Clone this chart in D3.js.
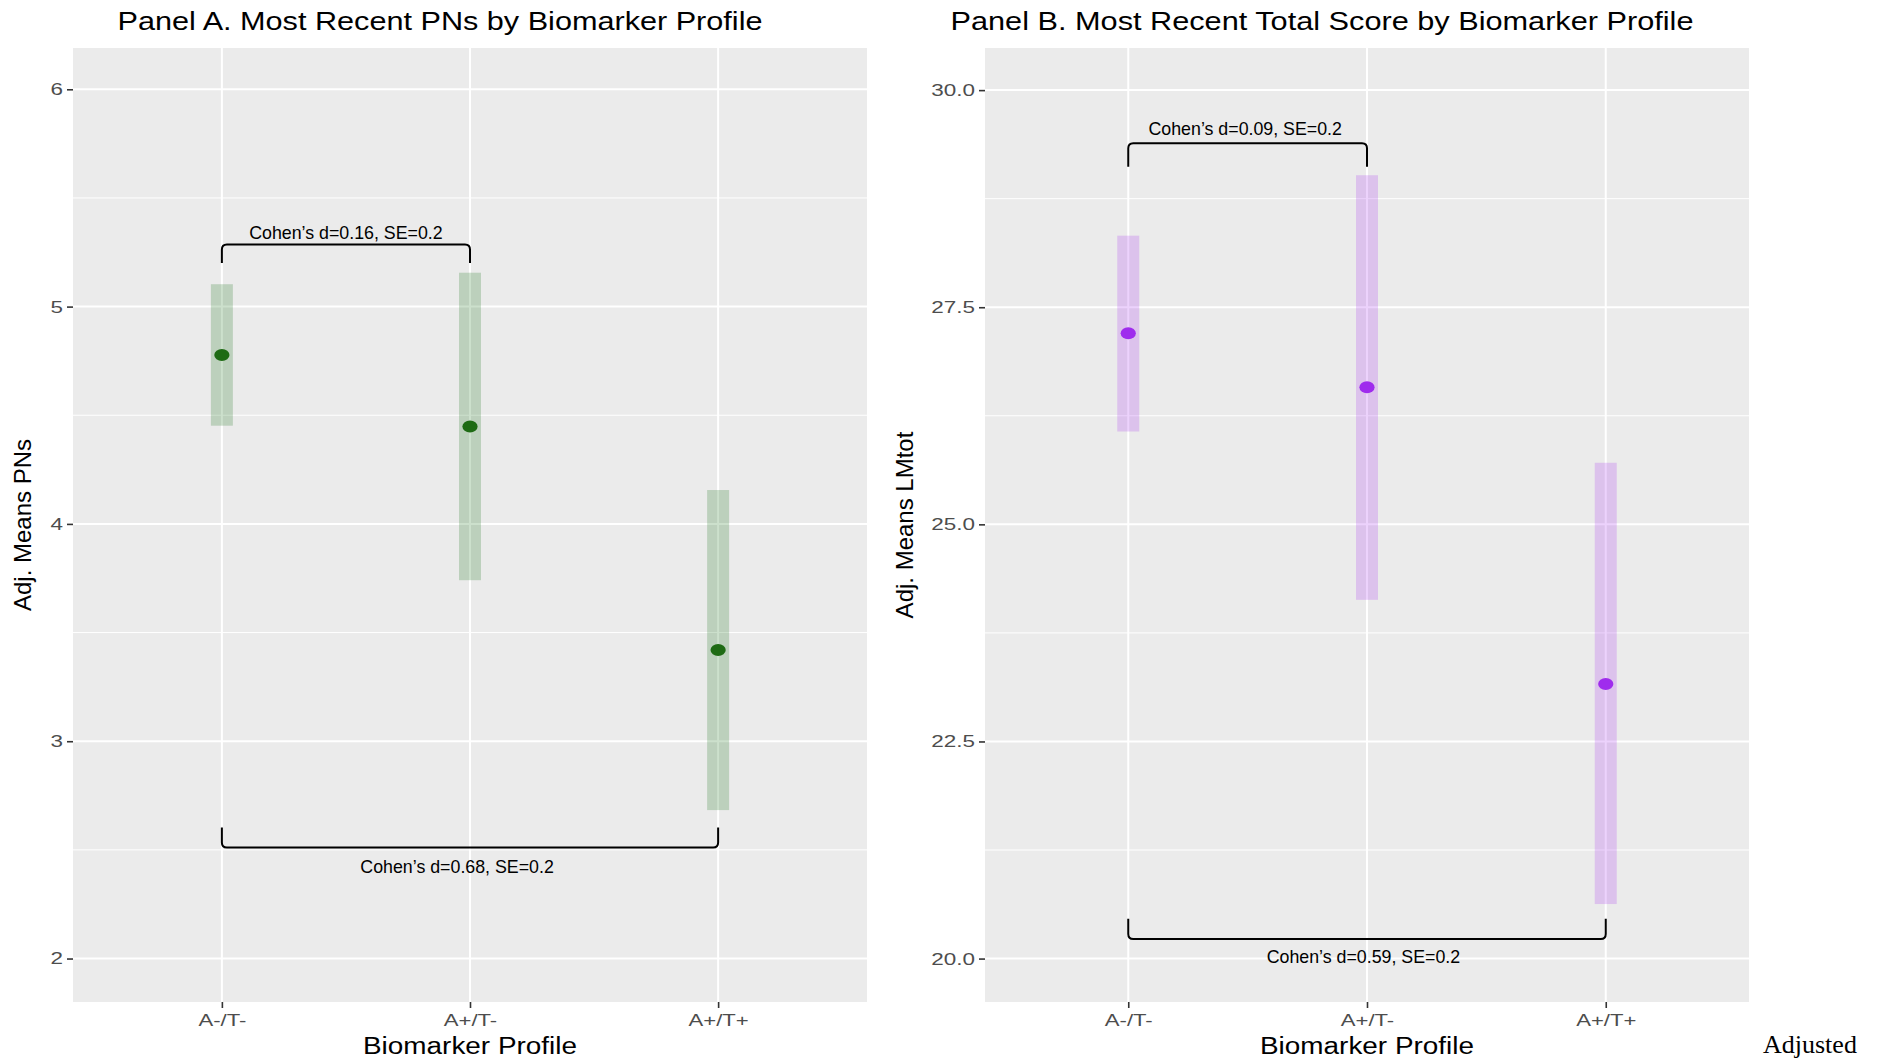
<!DOCTYPE html>
<html><head><meta charset="utf-8">
<script src="https://cdn.jsdelivr.net/npm/d3@7"></script>
<style>body{margin:0;background:#fff} svg{display:block}</style>
</head><body>
<svg id="chart" width="1883" height="1060"></svg>
<script>
// ---------- data ----------
const categories = ["A-/T-", "A+/T-", "A+/T+"];

const pnsMean  = [4.777, 4.448, 3.420];
const pnsLower = [4.452, 3.741, 2.683];
const pnsUpper = [5.103, 5.156, 4.156];

const lmMean  = [27.200, 26.578, 23.162];
const lmLower = [26.069, 24.131, 20.628];
const lmUpper = [28.324, 29.020, 25.709];

const pnsTicks = [2, 3, 4, 5, 6];
const pnsTickLabels = ["2", "3", "4", "5", "6"];
const pnsMinor = [2.5, 3.5, 4.5, 5.5];
const lmTicks = [20, 22.5, 25, 27.5, 30];
const lmTickLabels = ["20.0", "22.5", "25.0", "27.5", "30.0"];
const lmMinor = [21.25, 23.75, 26.25, 28.75];

// brackets: from/to category index, line value, tip value, label, label position (category index units), label value
const pnsBrackets = [
  {from: 0, to: 1, line: 5.286, tip: 5.201, label: "Cohen’s d=0.16, SE=0.2", labelAt: 0.50, labelY: 5.310},
  {from: 0, to: 2, line: 2.511, tip: 2.603, label: "Cohen’s d=0.68, SE=0.2", labelAt: 0.948, labelY: 2.393}
];
const lmBrackets = [
  {from: 0, to: 1, line: 29.387, tip: 29.118, label: "Cohen’s d=0.09, SE=0.2", labelAt: 0.49, labelY: 29.483},
  {from: 0, to: 2, line: 20.225, tip: 20.459, label: "Cohen’s d=0.59, SE=0.2", labelAt: 0.985, labelY: 19.949}
];

// ---------- layout ----------
const svg = d3.select("#chart");
const FONT = "'Liberation Sans', Arial, Helvetica, sans-serif";

function stretch(sel, factor) {
  sel.each(function() {
    const w = this.getComputedTextLength();
    this.setAttribute("textLength", w * factor);
    this.setAttribute("lengthAdjust", "spacingAndGlyphs");
  });
}
function fitTo(sel, width) {
  sel.attr("textLength", width).attr("lengthAdjust", "spacingAndGlyphs");
}

function drawPanel(cfg) {
  const {left, right, top, bottom} = cfg.box;
  const g = svg.append("g");
  const x = d3.scalePoint().domain(categories).range([left, right]).padding(0.6);
  const step = x.step();
  const xi = i => x(categories[0]) + i * step;
  const y = d3.scaleLinear().domain(cfg.domain).range([bottom, top]);

  g.append("rect").attr("x", left).attr("y", top).attr("width", right - left).attr("height", bottom - top).attr("fill", "#ebebeb");

  // minor grid
  g.selectAll(".minor").data(cfg.minor).join("line")
    .attr("x1", left).attr("x2", right).attr("y1", d => y(d)).attr("y2", d => y(d))
    .attr("stroke", "#fff").attr("stroke-width", 1);
  // major grid
  g.selectAll(".majorY").data(cfg.ticks).join("line")
    .attr("x1", left).attr("x2", right).attr("y1", d => y(d)).attr("y2", d => y(d))
    .attr("stroke", "#fff").attr("stroke-width", 2);
  g.selectAll(".majorX").data(categories).join("line")
    .attr("x1", d => x(d)).attr("x2", d => x(d)).attr("y1", top).attr("y2", bottom)
    .attr("stroke", "#fff").attr("stroke-width", 2);

  // axes
  const yAxis = d3.axisLeft(y).tickValues(cfg.ticks).tickFormat((d, i) => cfg.tickLabels[i]).tickSize(6).tickPadding(4);
  const ya = g.append("g").attr("transform", `translate(${left},0)`).call(yAxis);
  ya.select(".domain").remove();
  ya.selectAll(".tick line").attr("stroke", "#333").attr("stroke-width", 1.6);
  ya.selectAll(".tick text").attr("fill", "#4d4d4d").attr("font-family", FONT).attr("font-size", 17);
  stretch(ya.selectAll(".tick text"), 1.32);

  const xAxis = d3.axisBottom(x).tickSize(6).tickPadding(6);
  const xa = g.append("g").attr("transform", `translate(0,${bottom})`).call(xAxis);
  xa.select(".domain").remove();
  xa.selectAll(".tick line").attr("stroke", "#333").attr("stroke-width", 1.6);
  xa.selectAll(".tick text").attr("fill", "#4d4d4d").attr("font-family", FONT).attr("font-size", 17);
  stretch(xa.selectAll(".tick text"), 1.3);

  // error bands
  g.selectAll(".band").data(categories).join("rect")
    .attr("x", d => x(d) - 11).attr("width", 22)
    .attr("y", (d, i) => y(cfg.upper[i]))
    .attr("height", (d, i) => y(cfg.lower[i]) - y(cfg.upper[i]))
    .attr("fill", cfg.color).attr("fill-opacity", 0.2);

  // points
  g.selectAll(".pt").data(categories).join("ellipse")
    .attr("cx", d => x(d)).attr("cy", (d, i) => y(cfg.mean[i]))
    .attr("rx", 7.6).attr("ry", 6)
    .attr("fill", cfg.pointColor);

  // brackets
  const r = 5;
  g.selectAll(".br").data(cfg.brackets).join("path")
    .attr("d", b => {
      const x1 = xi(b.from), x2 = xi(b.to), ly = y(b.line), ty = y(b.tip);
      const dir = ty > ly ? 1 : -1;
      return `M${x1},${ty} L${x1},${ly + dir * r} Q${x1},${ly} ${x1 + r},${ly} L${x2 - r},${ly} Q${x2},${ly} ${x2},${ly + dir * r} L${x2},${ty}`;
    })
    .attr("fill", "none").attr("stroke", "#000").attr("stroke-width", 2);
  g.selectAll(".brl").data(cfg.brackets).join("text")
    .attr("x", b => xi(b.labelAt)).attr("y", b => y(b.labelY))
    .attr("text-anchor", "middle").attr("font-family", FONT).attr("font-size", 17.8).attr("fill", "#000")
    .text(b => b.label);

  // titles
  const t = g.append("text").attr("x", cfg.titleX).attr("y", 30).attr("text-anchor", "middle")
    .attr("font-family", FONT).attr("font-size", 25.5).attr("fill", "#000").text(cfg.title);
  fitTo(t, cfg.titleWidth);

  const xt = g.append("text").attr("x", x(categories[1])).attr("y", 1054).attr("text-anchor", "middle")
    .attr("font-family", FONT).attr("font-size", 23).attr("fill", "#000").text("Biomarker Profile");
  fitTo(xt, 214);

  g.append("text").attr("transform", `translate(${cfg.yTitleX},${(top + bottom) / 2}) rotate(-90)`)
    .attr("text-anchor", "middle").attr("font-family", FONT).attr("font-size", 24).attr("fill", "#000")
    .text(cfg.yTitle);
}

drawPanel({
  box: {left: 73, right: 867, top: 48, bottom: 1002},
  domain: [1.80, 6.19], ticks: pnsTicks, tickLabels: pnsTickLabels, minor: pnsMinor,
  mean: pnsMean, lower: pnsLower, upper: pnsUpper,
  color: "#006400", pointColor: "#1e6b14",
  brackets: pnsBrackets,
  title: "Panel A. Most Recent PNs by Biomarker Profile", titleX: 440, titleWidth: 645,
  yTitle: "Adj. Means PNs", yTitleX: 31
});

drawPanel({
  box: {left: 985, right: 1749, top: 48, bottom: 1002},
  domain: [19.50, 30.485], ticks: lmTicks, tickLabels: lmTickLabels, minor: lmMinor,
  mean: lmMean, lower: lmLower, upper: lmUpper,
  color: "#a020f0", pointColor: "#9f2ced",
  brackets: lmBrackets,
  title: "Panel B. Most Recent Total Score by Biomarker Profile", titleX: 1322, titleWidth: 743,
  yTitle: "Adj. Means LMtot", yTitleX: 913
});

svg.append("text").attr("x", 1763).attr("y", 1053)
  .attr("font-family", "'Liberation Serif', 'Times New Roman', serif").attr("font-size", 26).attr("fill", "#000")
  .text("Adjusted");
</script>
</body></html>
